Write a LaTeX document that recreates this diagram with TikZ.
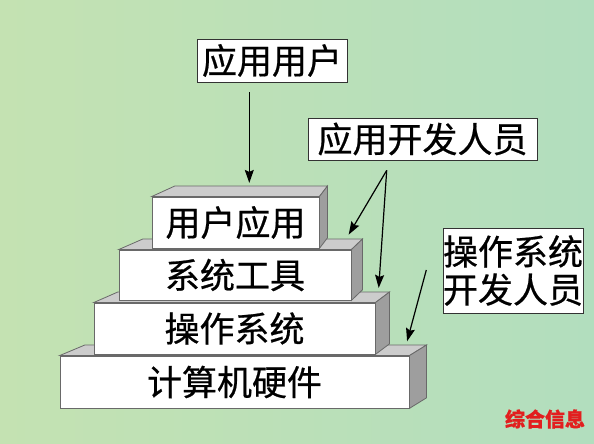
\documentclass[tikz,border=0pt]{standalone}
\usepackage{fontspec}
\setmainfont{Noto Sans CJK SC}[FakeBold=0.6]
\usetikzlibrary{arrows.meta,calc}

\definecolor{bgleft}{RGB}{196,226,178}
\definecolor{bgright}{RGB}{178,222,190}
\definecolor{facetop}{RGB}{204,204,204}
\definecolor{faceside}{RGB}{158,158,158}
\definecolor{edgegray}{RGB}{105,105,105}
\definecolor{markred}{RGB}{226,30,30}

\tikzset{
  block/.style={draw=edgegray, line width=0.8pt, fill=white, inner sep=0pt, font=\fontsize{35}{38}\selectfont},
  topface/.style={draw=edgegray, line width=0.8pt, fill=facetop},
  sideface/.style={draw=edgegray, line width=0.8pt, fill=faceside},
  tag/.style={draw=black!80, line width=0.8pt, fill=white, inner sep=0pt, align=center, font=\fontsize{35}{38}\selectfont},
  arr/.style={-{Stealth[length=13pt,width=9pt,inset=2pt]}, line width=1.2pt},
}

% top and right faces of a block: name, left depth, right depth
\newcommand{\drawslab}[3]{
  \draw [topface] (#1.north west) -- ++(#2,10.5) -- ($(#1.north east)+(#3,10.5)$) -- (#1.north east) -- cycle;
  \draw [sideface] (#1.north east) -- ++(#3,10.5) -- ($(#1.south east)+(#3,10.5)$) -- (#1.south east) -- cycle;
}

\begin{document}
\begin{tikzpicture}[x=1pt,y=1pt]

\useasboundingbox (0,0) rectangle (594,444);
\shade [shading angle=100, left color=bgleft, right color=bgright] (0,0) rectangle (594,444);



\node [block, minimum width=349, minimum height=52] (blk-hw) at (234.5,62){计算机硬件};
\drawslab{blk-hw}{25}{17}

\node [block, minimum width=281, minimum height=51] (blk-os) at (234.5,115.5){操作系统};
\drawslab{blk-os}{24}{14}

\node [block, minimum width=232, minimum height=50] (blk-sys) at (235,169){系统工具};
\drawslab{blk-sys}{24}{11}

\node [block, minimum width=167, minimum height=51] (blk-app) at (235.5,221.5){用户应用};
\drawslab{blk-app}{23}{8}




\node [tag, minimum width=150, minimum height=43] (tag-user) at (272,383.5){应用用户};
\draw [arr]   ([xshift=-22.7,yshift=-9.7]tag-user.south) -- ([xshift=13.8,yshift=13.7]blk-app.north);

\node [tag, minimum width=229, minimum height=42] (tag-appdev) at (422.5,305){应用开发人员};
\coordinate (appdev-fork) at ([xshift=-35.8,yshift=-10]tag-appdev.south);
\draw [arr]   (appdev-fork) -- ([xshift=-2.7,yshift=15]blk-sys.north east);
\draw [arr]   (appdev-fork) -- ([xshift=3.3,yshift=14.7]blk-os.north east);

\node [tag, minimum width=140, minimum height=85] (tag-osdev) at (513,173.5){操作系统\\开发人员};
\draw [arr]   ([xshift=-16.3,yshift=0.5]tag-osdev.west) -- ([xshift=-2.3,yshift=14.3]blk-hw.north east);


\node [text=markred, font=\fontsize{20}{22}\selectfont\bfseries] (mark) at (545,25){综合信息};

%%%%%%%%%%%%%%%%%%%%%%%%%%%%%%%%%%%%%%%%%%%%%%%%%%%%%%%%%%%%%%%%%

\end{tikzpicture}
\end{document}
